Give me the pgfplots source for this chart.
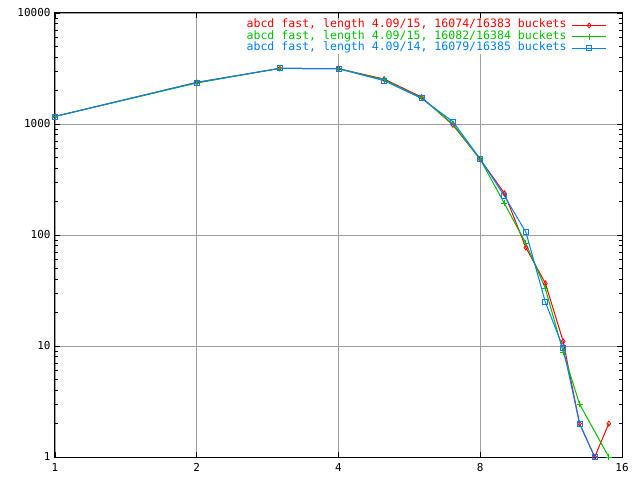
\documentclass[border=0pt]{standalone}
\usepackage{fontspec}
\setmainfont{DejaVu Sans Mono}
\usepackage{pgfplots}
\pgfplotsset{compat=1.18}
\definecolor{gred}{HTML}{FF0000}
\definecolor{ggreen}{HTML}{00C000}
\definecolor{gblue}{HTML}{0080FF}
\pgfplotsset{legend image code/.code={\draw[mark repeat=2,mark phase=2,#1] plot coordinates {(0bp,0bp)(17bp,0bp)(34bp,0bp)};}}
\begin{document}
\begin{tikzpicture}
\begin{axis}[
  at={(0,0)}, anchor=south west,
  scale only axis, width=567bp, height=444bp,
  xmode=log, log basis x=2, ymode=log,
  xmin=1, xmax=16, ymin=1, ymax=10000,
  xtick={1,2,4,8,16}, xticklabels={1,2,4,8,16},
  ytick={1,10,100,1000,10000}, yticklabels={1,10,100,1000,10000},
  minor ytick={2,3,4,5,6,7,8,9,20,30,40,50,60,70,80,90,200,300,400,500,600,700,800,900,2000,3000,4000,5000,6000,7000,8000,9000},
  minor xtick={},
  grid=major, major grid style={color=black!38, line width=0.8bp},
  axis line style={line width=1bp},
  every tick/.style={black, line width=0.8bp},
  major tick length=5bp, minor tick length=3bp,
  tick label style={font=\fontsize{11}{12}\selectfont},
  xticklabel style={yshift=-3bp},
  yticklabel style={xshift=-1bp},
  /pgf/number format/assume math mode=true,
  legend style={at={(0.9733,0.985)}, anchor=north east, draw=none, fill=white,
    font=\fontsize{11.6}{12}\selectfont, inner sep=0pt,
    nodes={inner sep=0pt, inner xsep=5bp, text height=8bp, text depth=3.3bp}},
  legend cell align=right, legend plot pos=right,
  every axis plot/.append style={line width=1bp},
  clip=false,
]
\addplot[color=gred, mark=diamond, mark size=2.5bp, mark options={solid, line width=0.8bp}] coordinates {
  (1,1170) (2,2370) (3,3170) (4,3150) (5,2540) (6,1750) (7,980) (8,480)
  (9,238) (10,77) (11,36.7) (12,11) (13,2) (14,1) (15,2)};
\addlegendentry{\textcolor{gred}{abcd fast, length 4.09/15, 16074/16383 buckets}}
\addplot[color=ggreen, mark=+, mark size=3bp, mark options={solid, line width=0.8bp}] coordinates {
  (1,1170) (2,2340) (3,3170) (4,3150) (5,2500) (6,1720) (7,1000) (8,480)
  (9,193) (10,84) (11,33) (12,8.8) (13,3) (15,1)};
\addlegendentry{\textcolor{ggreen}{abcd fast, length 4.09/15, 16082/16384 buckets}}
\addplot[color=gblue, mark=square, mark size=2.5bp, mark options={solid, line width=0.8bp}] coordinates {
  (1,1170) (2,2370) (3,3170) (4,3150) (5,2455) (6,1704) (7,1050) (8,484)
  (9,225) (10,106) (11,24.8) (12,9.6) (13,2) (14,1)};
\addlegendentry{\textcolor{gblue}{abcd fast, length 4.09/14, 16079/16385 buckets}}
\end{axis}
\pgfresetboundingbox
\path[use as bounding box] (-55bp,-23bp) rectangle (585bp,457bp);
\end{tikzpicture}
\end{document}
